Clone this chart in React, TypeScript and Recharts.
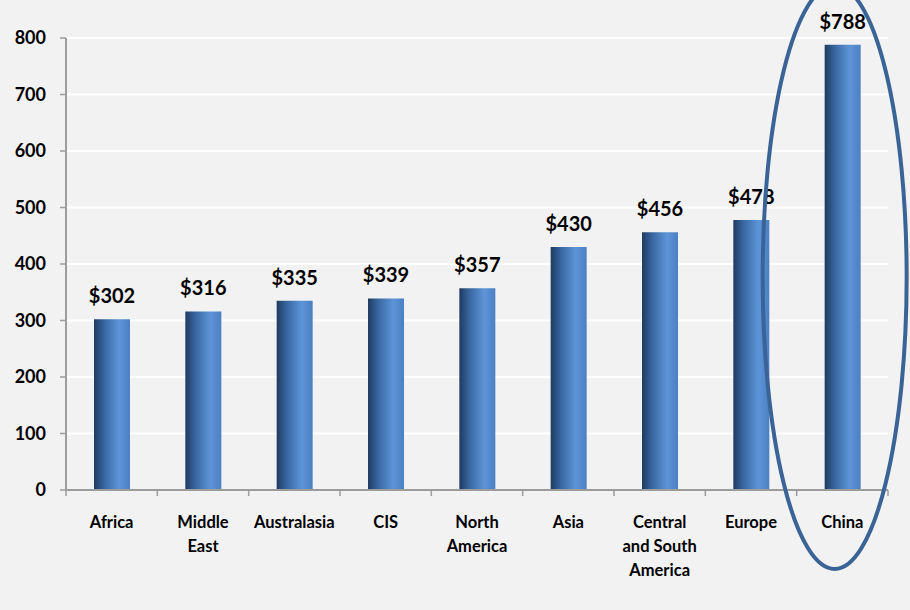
import { BarChart, Bar, XAxis, YAxis, CartesianGrid, LabelList } from "recharts";

document.body.style.margin = "0";

const regions = [
  "Africa",
  "Middle East",
  "Australasia",
  "CIS",
  "North America",
  "Asia",
  "Central and South America",
  "Europe",
  "China",
];
const tickLines = [
  ["Africa"],
  ["Middle", "East"],
  ["Australasia"],
  ["CIS"],
  ["North", "America"],
  ["Asia"],
  ["Central", "and South", "America"],
  ["Europe"],
  ["China"],
];
const values = [302, 316, 335, 339, 357, 430, 456, 478, 788];
const yTicks = [0, 100, 200, 300, 400, 500, 600, 700, 800];

const data = regions.map((name, i) => ({ name, value: values[i], lines: tickLines[i] }));

const FONT = "Lato, 'Open Sans', sans-serif";

const CategoryTick = (props: any) => {
  const { x, y, payload, index } = props;
  const half = payload.offset || 45.7;
  const lines = tickLines[index] || [payload.value];
  return (
    <g>
      <line x1={x - half} y1={y - 8} x2={x - half} y2={y - 2} stroke="#9c9c9c" strokeWidth={1.5} />
      {index === regions.length - 1 && (
        <line x1={x + half} y1={y - 8} x2={x + half} y2={y - 2} stroke="#9c9c9c" strokeWidth={1.5} />
      )}
      <text x={x} y={y + 30} textAnchor="middle" fontFamily={FONT} fontWeight={700} fontSize={16.5} fill="#000">
        {lines.map((l: string, i: number) => (
          <tspan key={i} x={x} dy={i === 0 ? 0 : 24}>
            {l}
          </tspan>
        ))}
      </text>
    </g>
  );
};

const ValueLabel = (props: any) => {
  const { x, y, width, value } = props;
  return (
    <text x={x + width / 2} y={y - 16} textAnchor="middle" fontFamily={FONT} fontWeight={700} fontSize={20} fill="#000">
      ${value}
    </text>
  );
};

const Highlight = (props: any) => {
  const { x, width, index } = props;
  if (index !== regions.length - 1) return null;
  const cx = x + width / 2 - 8;
  return <ellipse cx={cx} cy={277} rx={72} ry={292} fill="none" stroke="#3a6496" strokeWidth={4} />;
};

export default function App() {
  return (
    <div style={{ width: 910, height: 610, background: "#f2f2f2" }}>
      <BarChart
        width={910}
        height={610}
        data={data}
        margin={{ top: 38, right: 22, left: 0, bottom: 0 }}
      >
        <defs>
          <linearGradient id="barGrad" x1="0" y1="0" x2="1" y2="0">
            <stop offset="0%" stopColor="#1f3b60" />
            <stop offset="30%" stopColor="#3a69a4" />
            <stop offset="70%" stopColor="#5e95d8" />
            <stop offset="100%" stopColor="#4b80c2" />
          </linearGradient>
        </defs>
        <CartesianGrid vertical={false} stroke="#ffffff" strokeWidth={2} />
        <XAxis
          dataKey="name"
          height={120}
          interval={0}
          axisLine={{ stroke: "#9c9c9c", strokeWidth: 2 }}
          tickLine={false}
          tick={<CategoryTick />}
          tickSize={0}
          tickMargin={8}
        />
        <YAxis
          width={66}
          domain={[0, 800]}
          ticks={yTicks}
          interval={0}
          axisLine={{ stroke: "#9c9c9c", strokeWidth: 2 }}
          tickLine={{ stroke: "#9c9c9c", strokeWidth: 1.5 }}
          tickSize={6}
          tickMargin={14}
          tick={{ fontFamily: FONT, fontWeight: 700, fontSize: 18, fill: "#000" }}
        />
        <Bar dataKey="value" fill="url(#barGrad)" barSize={36} isAnimationActive={false}>
          <LabelList dataKey="value" content={<ValueLabel />} />
          <LabelList dataKey="value" content={<Highlight />} />
        </Bar>
      </BarChart>
    </div>
  );
}
